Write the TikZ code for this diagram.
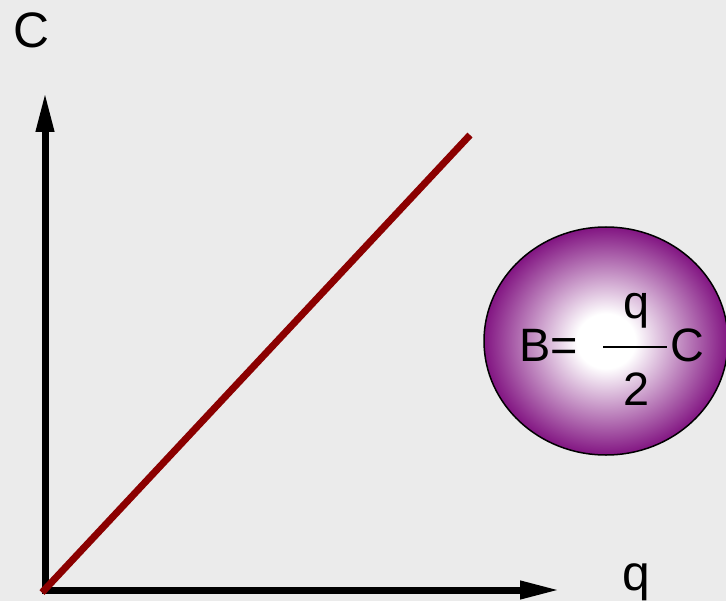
\documentclass[tikz,border=0pt]{standalone}
\usepackage{fontspec}
\setmainfont{Liberation Sans}
\usetikzlibrary{arrows.meta,shapes.geometric}
\definecolor{bg}{HTML}{EBEBEB}
\definecolor{linered}{HTML}{8B0000}
\definecolor{purp}{HTML}{821582}
\pgfdeclareradialshading{ellshade}{\pgfpoint{0bp}{0bp}}{color(0bp)=(white); color(6bp)=(white); color(25bp)=(purp); color(50bp)=(purp)}
\tikzset{
  axis/.style={line width=7bp, -{Triangle[length=40bp,width=17bp]}},
  lbl/.style={font=\fontsize{50}{54}\selectfont, inner sep=0pt},
  eqtext/.style={font=\fontsize{47}{50}\selectfont, inner sep=0pt},
}
\begin{document}
\begin{tikzpicture}[x=1bp,y=-1bp]
\fill[bg] (0,0) rectangle (726,601);
\useasboundingbox (0,0) rectangle (726,601);
\coordinate (o) at (45,590);
\coordinate (ytop) at (45,92);
\coordinate (xend) at (560,590);
\coordinate (rend) at (470,135);
\draw[axis] (45,593.5) -- (ytop);
\draw[axis] (41.5,590) -- (xend);
\draw[linered, line width=7bp] (42,592.5) -- (rend);
\node[lbl] (cl) at (31,30) {C};
\node[lbl, anchor=base] (ql) at (636,590) {q};
\node[ellipse, minimum width=244bp, minimum height=228bp, draw=black, line width=1.5bp,
  shading=ellshade, inner sep=0pt] (ell) at (606,341) {};
\node[eqtext, anchor=base] (b) at (549,361) {B=};
\node[eqtext, anchor=base] (qn) at (637,318) {q};
\node[eqtext, anchor=base] (two) at (637,405) {2};
\node[eqtext, anchor=base] (cc) at (687,361) {C};
\coordinate (fl) at (603,347);
\coordinate (fr) at (667,347);
\draw[line width=2bp] (fl) -- (fr);
\end{tikzpicture}
\end{document}
